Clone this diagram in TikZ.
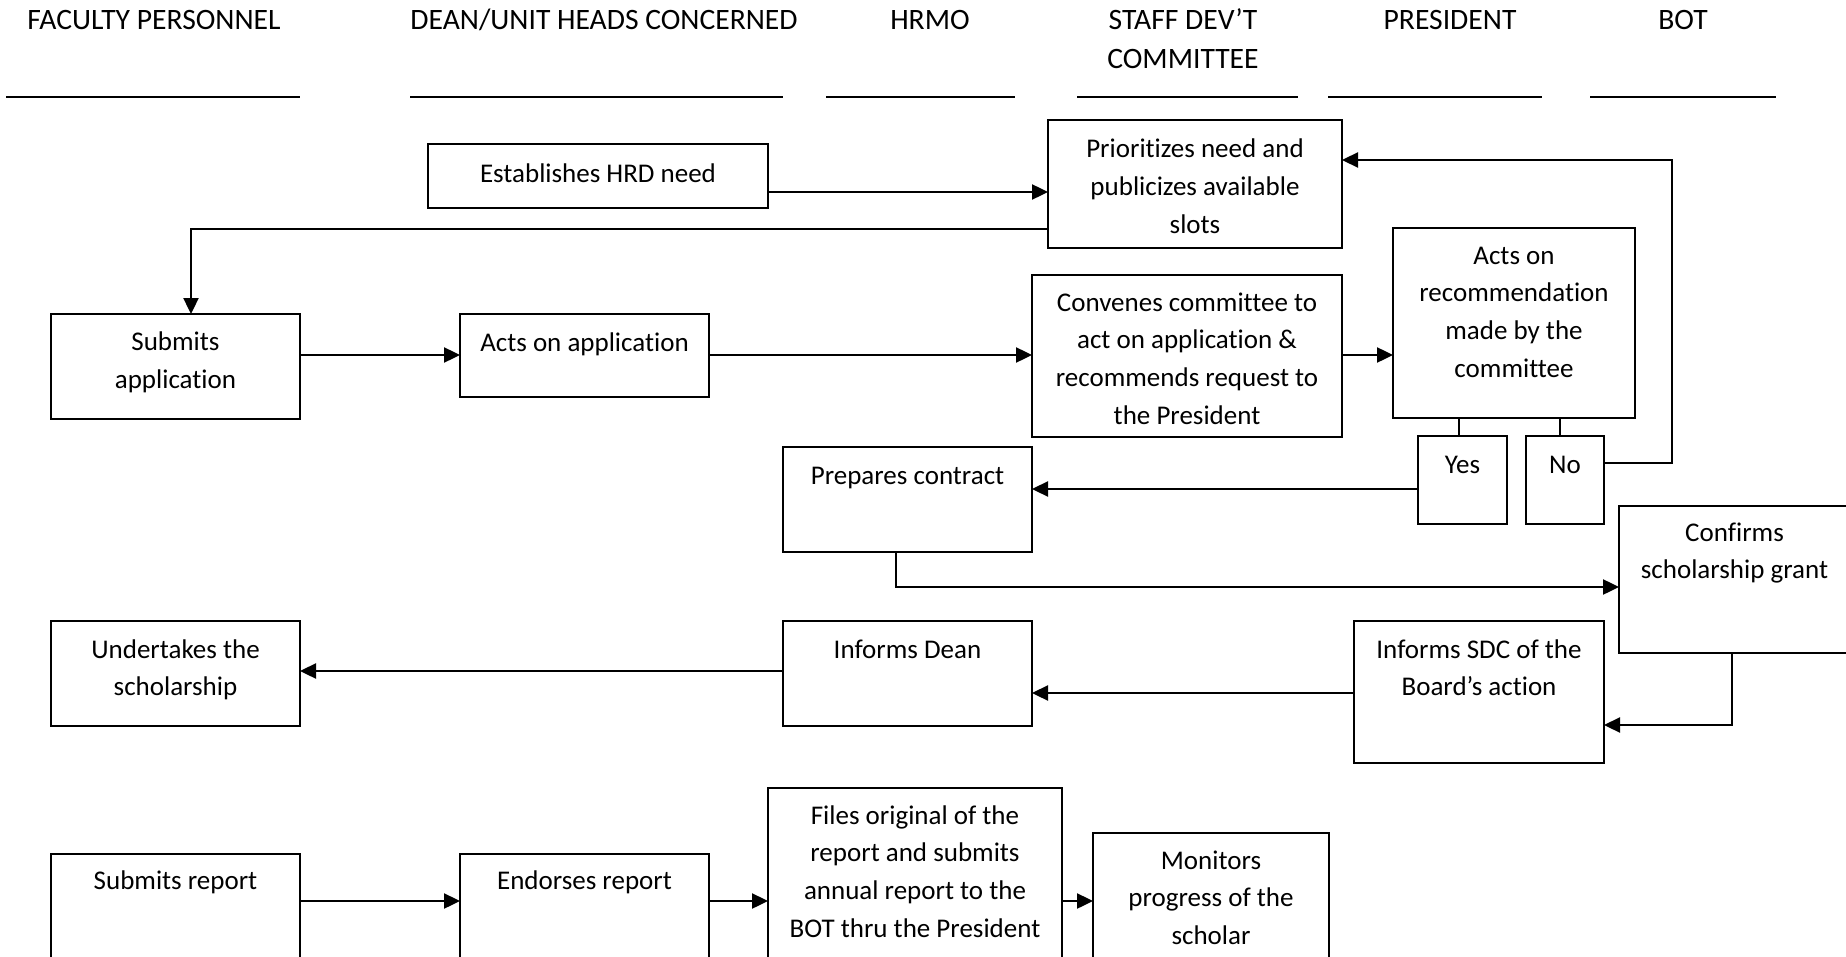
\documentclass[tikz,border=0pt]{standalone}
\usepackage{fontspec}
\setmainfont{Carlito}[Ligatures={NoCommon,NoContextual,NoRare}]
\usetikzlibrary{arrows.meta}
% one drawing unit = one pixel of the 1846 x 957 sheet
\newdimen\px \px=0.5pt
% text block of a box: width, height, first-baseline offset, lines
\newcommand{\boxtext}[4]{\parbox[c][#2\px][t]{#1\px}{\centering\rule{0pt}{#3\px}#4\par}}
\begin{document}
\begin{tikzpicture}[x=0.5pt,y=-0.5pt,
  font=\fontsize{13.5pt}{18.85pt}\selectfont,
  box/.style={draw, line width=0.8pt, inner sep=0pt, outer sep=0pt, anchor=north west},
  head/.style={inner sep=0pt, anchor=north, align=center, font=\fontsize{14.8pt}{19.5pt}\selectfont},
  lane/.style={line width=1.1pt},
  flow/.style={line width=1.2pt, -{Triangle[length=8pt,width=7.5pt]}},
  link/.style={line width=0.8pt}]
\fill[white] (0,0) rectangle (1846,957);
\useasboundingbox (0,0) rectangle (1846,957);

% lane headings
\node[head] (h1) at (154,0) {\rule{0pt}{29\px}FACULTY PERSONNEL};
\node[head] (h2) at (604,0) {\rule{0pt}{29\px}DEAN/UNIT HEADS CONCERNED};
\node[head] (h3) at (930,0) {\rule{0pt}{29\px}HRMO};
\node[head] (h4) at (1183,0) {\rule{0pt}{29\px}STAFF DEV’T\\COMMITTEE};
\node[head] (h5) at (1450,0) {\rule{0pt}{29\px}PRESIDENT};
\node[head] (h6) at (1683,0) {\rule{0pt}{29\px}BOT};
\draw[lane] (6,97) -- (300,97);
\draw[lane] (410,97) -- (783,97);
\draw[lane] (826,97) -- (1015,97);
\draw[lane] (1077,97) -- (1298,97);
\draw[lane] (1328,97) -- (1542,97);
\draw[lane] (1590,97) -- (1776,97);

% process boxes
\node[box] (est)  at (428,144)  {\boxtext{340}{64}{39}{Establishes HRD need}};
\node[box] (pri)  at (1048,120) {\boxtext{294}{128}{38}{Prioritizes need and\\publicizes available\\slots}};
\node[box] (sub)  at (51,314)   {\boxtext{249}{105}{37}{Submits\\application}};
\node[box] (aoa)  at (460,314)  {\boxtext{249}{83}{37}{Acts on application}};
\node[box] (conv) at (1032,275) {\boxtext{310}{162}{36}{Convenes committee to\\act on application \&\\recommends request to\\the President}};
\node[box] (rec)  at (1393,228) {\boxtext{242}{190}{36}{Acts on\\recommendation\\made by the\\committee}};
\node[box] (yes)  at (1418,436) {\boxtext{89}{88}{37}{Yes}};
\node[box] (no)   at (1526,436) {\boxtext{78}{88}{37}{No}};
\node[box] (prep) at (783,447)  {\boxtext{249}{105}{37}{Prepares contract}};
\node[box] (conf) at (1619,506) {\boxtext{231}{147}{35}{Confirms\\scholarship grant}};
\node[box] (sdc)  at (1354,621) {\boxtext{250}{142}{37}{Informs SDC of the\\Board’s action}};
\node[box] (dean) at (783,621)  {\boxtext{249}{105}{37}{Informs Dean}};
\node[box] (und)  at (51,621)   {\boxtext{249}{105}{37}{Undertakes the\\scholarship}};
\node[box] (srep) at (51,854)   {\boxtext{249}{110}{35}{Submits report}};
\node[box] (endo) at (460,854)  {\boxtext{249}{110}{35}{Endorses report}};
\node[box] (file) at (768,788)  {\boxtext{294}{180}{36}{Files original of the\\report and submits\\annual report to the\\BOT thru the President}};
\node[box] (mon)  at (1093,833) {\boxtext{236}{135}{36}{Monitors\\progress of the\\scholar}};

% routing points of the connectors
\coordinate (yA) at (0,192);
\coordinate (yB) at (0,229);
\coordinate (xB) at (191,0);
\coordinate (yC) at (0,355);
\coordinate (xY) at (1459,0);
\coordinate (xN) at (1560,0);
\coordinate (yD) at (0,463);
\coordinate (yE) at (0,160);
\coordinate (xL) at (1672,0);
\coordinate (yF) at (0,489);
\coordinate (xG) at (896,0);
\coordinate (yG) at (0,587);
\coordinate (xH) at (1732,0);
\coordinate (yH) at (0,725);
\coordinate (yI) at (0,693);
\coordinate (yJ) at (0,671);
\coordinate (yK) at (0,901);

% connectors
\draw[flow] (est.east |- yA) -- (pri.west |- yA);
\draw[flow] (pri.west |- yB) -| (sub.north -| xB);
\draw[flow] (sub.east |- yC) -- (aoa.west |- yC);
\draw[flow] (aoa.east |- yC) -- (conv.west |- yC);
\draw[flow] (conv.east |- yC) -- (rec.west |- yC);
\draw[link] (rec.south -| xY) -- (yes.north -| xY);
\draw[link] (rec.south -| xN) -- (no.north -| xN);
\draw[flow] (no.east |- yD) -| (xL |- yE) -- (pri.east |- yE);
\draw[flow] (yes.west |- yF) -- (prep.east |- yF);
\draw[flow] (prep.south -| xG) |- (conf.west |- yG);
\draw[flow] (conf.south -| xH) |- (sdc.east |- yH);
\draw[flow] (sdc.west |- yI) -- (dean.east |- yI);
\draw[flow] (dean.west |- yJ) -- (und.east |- yJ);
\draw[flow] (srep.east |- yK) -- (endo.west |- yK);
\draw[flow] (endo.east |- yK) -- (file.west |- yK);
\draw[flow] (file.east |- yK) -- (mon.west |- yK);
\end{tikzpicture}
\end{document}
